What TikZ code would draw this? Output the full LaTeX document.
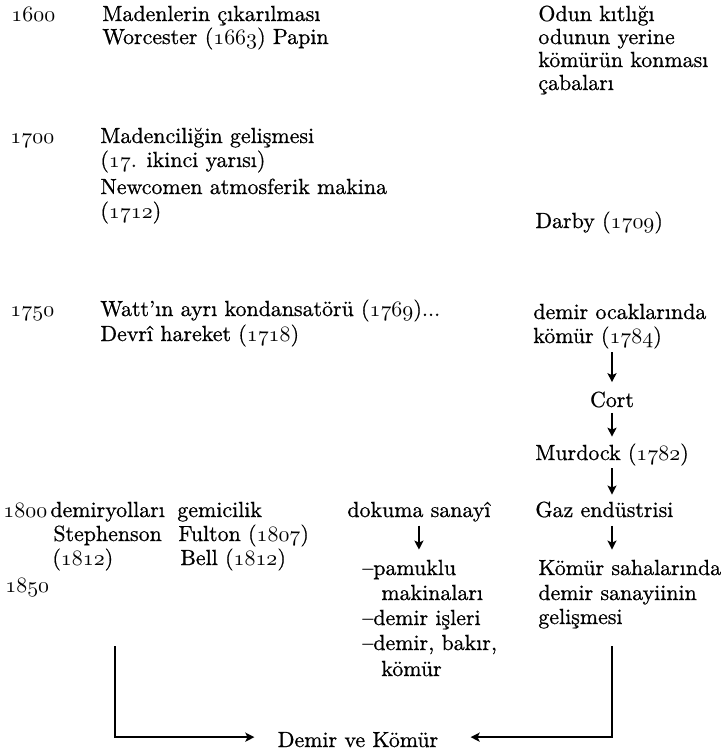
\documentclass[tikz,border=0pt]{standalone}
\usepackage{fontspec}
\setmainfont{Latin Modern Roman}[FakeBold=0.7]
\usetikzlibrary{arrows.meta}
\newcommand\osn[1]{{\fontencoding{OML}\fontfamily{cmm}\fontseries{m}\fontshape{it}\selectfont #1}}
\begin{document}
\begin{tikzpicture}[x=0.5pt,y=-0.5pt,
  txt/.style={anchor=base west,inner sep=0pt,font=\fontsize{10.95}{13}\selectfont},
  arr/.style={line width=1pt,-{Stealth[length=4.5pt,width=4.5pt,inset=1pt]}}]
\useasboundingbox (0,0) rectangle (721,752);
% years
\node[txt] (y1600) at (11,21) {\osn{1600}};
\node[txt] (y1700) at (10,143) {\osn{1700}};
\node[txt] (y1750) at (10,316) {\osn{1750}};
\node[txt] (y1800) at (3,517) {\osn{1800}};
\node[txt] (y1850) at (5,592) {\osn{1850}};
% middle-left column
\node[txt] (a1) at (102,21) {Madenlerin çıkarılması};
\node[txt] (a2) at (102,44) {Worcester (\osn{1663}) Papin};
\node[txt] (b1) at (100,143) {Madenciliğin gelişmesi};
\node[txt] (b2) at (100,167) {(\osn{17}. ikinci yarısı)};
\node[txt] (b3) at (100,194) {Newcomen atmosferik makina};
\node[txt] (b4) at (100,218) {(\osn{1712})};
\node[txt] (c1) at (100,316) {Watt’ın ayrı kondansatörü (\osn{1769})...};
\node[txt] (c2) at (100,341) {Devrî hareket (\osn{1718})};
% 1800 group
\node[txt] (dy) at (50,517) {demiryolları};
\node[txt] (gm) at (177,517) {gemicilik};
\node[txt] (st) at (53,541) {Stephenson};
\node[txt] (fu) at (178,541) {Fulton (\osn{1807})};
\node[txt] (st2) at (52,565) {(\osn{1812})};
\node[txt] (bell) at (180,565) {Bell (\osn{1812})};
% textile column
\node[txt] (dok) at (347,517) {dokuma sanayî};
\node[txt] (p1) at (362,575) {–pamuklu};
\node[txt] (p2) at (381,600) {makinaları};
\node[txt] (p3) at (362,625) {–demir işleri};
\node[txt] (p4) at (362,650) {–demir, bakır,};
\node[txt] (p5) at (381,676) {kömür};
% right column
\node[txt] (r1) at (538,21) {Odun kıtlığı};
\node[txt] (r2) at (538,44) {odunun yerine};
\node[txt] (r3) at (538,67) {kömürün konması};
\node[txt] (r4) at (538,90) {çabaları};
\node[txt] (darby) at (535,228) {Darby (\osn{1709})};
\node[txt] (d1) at (533,319) {demir ocaklarında};
\node[txt] (d2) at (533,343) {kömür (\osn{1784})};
\node[txt,anchor=base] (cort) at (612,407) {Cort};
\node[txt] (murdock) at (535,460) {Murdock (\osn{1782})};
\node[txt] (gaz) at (535,517) {Gaz endüstrisi};
\node[txt] (k1) at (538,575) {Kömür sahalarında};
\node[txt] (k2) at (538,600) {demir sanayiinin};
\node[txt] (k3) at (538,624) {gelişmesi};
% bottom
\node[txt,anchor=base] (dk) at (358,747) {Demir ve Kömür};
\coordinate (lt) at (115,646);
\coordinate (rt) at (612,646);
% arrows
\draw[arr,shorten <=1.75pt,shorten >=4.5pt] (d2.south -| cort) -- (cort.north);
\draw[arr,shorten <=2.5pt,shorten >=3.25pt] (cort.south) -- (murdock.north -| cort);
\draw[arr,shorten <=1.25pt,shorten >=3.3pt] (murdock.south -| cort) -- (gaz.north -| cort);
\draw[arr,shorten <=4pt,shorten >=4.9pt] (gaz.south -| cort) -- (k1.north -| cort);
\draw[arr,shorten <=1.9pt,shorten >=4.9pt] (dok.south) -- (dok.south |- p1.north);
\draw[arr,shorten >=11.5pt] (lt) |- ([yshift=1.25pt]dk.west);
\draw[arr,shorten >=16pt] (rt) |- ([yshift=1.25pt]dk.east);
\end{tikzpicture}
\end{document}
